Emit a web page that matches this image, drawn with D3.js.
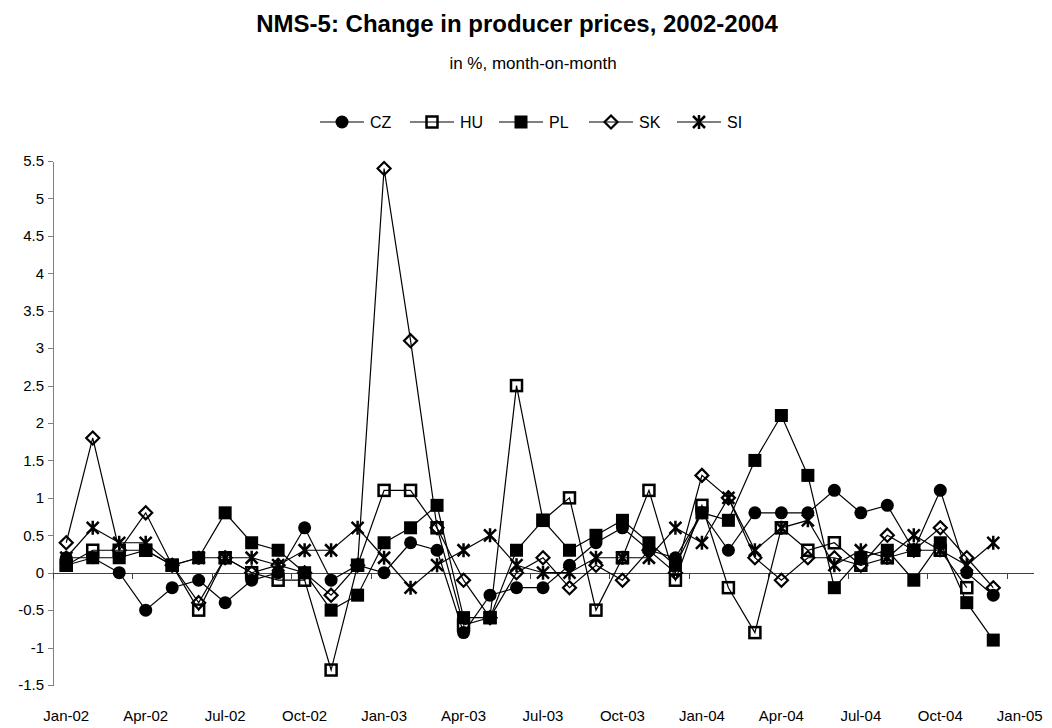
<!DOCTYPE html>
<html>
  <head>
    <meta charset="utf-8">
    <title>NMS-5 producer prices</title>
    <script src="https://cdn.jsdelivr.net/npm/d3@7"></script>
    <style>
      body { margin: 0; background: #fff; }
      svg { display: block; font-family: Arial, "Liberation Sans", sans-serif; }
      .axis path, .axis line { stroke: #808080; shape-rendering: crispEdges; }
      .axis text { font-size: 15px; fill: #000; }
      #xAxisGroup path, #xAxisGroup line { stroke: #404040; }
    </style>
  </head>
  <body>
    <svg id="chart" width="1052" height="728"></svg>

    <script>
      // data: month-on-month change in producer prices, %
      months = ["Jan-02","Feb-02","Mar-02","Apr-02","May-02","Jun-02","Jul-02","Aug-02","Sep-02","Oct-02","Nov-02","Dec-02",
                "Jan-03","Feb-03","Mar-03","Apr-03","May-03","Jun-03","Jul-03","Aug-03","Sep-03","Oct-03","Nov-03","Dec-03",
                "Jan-04","Feb-04","Mar-04","Apr-04","May-04","Jun-04","Jul-04","Aug-04","Sep-04","Oct-04","Nov-04","Dec-04"];
      cz = [0.2, 0.2, 0, -0.5, -0.2, -0.1, -0.4, -0.1, 0, 0.6, -0.1, 0.1,
            0, 0.4, 0.3, -0.8, -0.3, -0.2, -0.2, 0.1, 0.4, 0.6, 0.3, 0.2,
            0.8, 0.3, 0.8, 0.8, 0.8, 1.1, 0.8, 0.9, 0.3, 1.1, 0, -0.3];
      hu = [0.1, 0.3, 0.3, 0.3, 0.1, -0.5, 0.2, 0, -0.1, -0.1, -1.3, 0.1,
            1.1, 1.1, 0.6, -0.7, -0.6, 2.5, 0.7, 1.0, -0.5, 0.2, 1.1, -0.1,
            0.9, -0.2, -0.8, 0.6, 0.3, 0.4, 0.1, 0.2, 0.3, 0.3, -0.2, null];
      pl = [0.1, 0.2, 0.2, 0.3, 0.1, 0.2, 0.8, 0.4, 0.3, 0, -0.5, -0.3,
            0.4, 0.6, 0.9, -0.6, -0.6, 0.3, 0.7, 0.3, 0.5, 0.7, 0.4, 0.1,
            0.8, 0.7, 1.5, 2.1, 1.3, -0.2, 0.2, 0.3, -0.1, 0.4, -0.4, -0.9];
      sk = [0.4, 1.8, 0.3, 0.8, 0.1, -0.4, 0.2, 0, 0.1, 0, -0.3, 0.1,
            5.4, 3.1, 0.6, -0.1, -0.6, 0, 0.2, -0.2, 0.1, -0.1, 0.3, 0,
            1.3, 1.0, 0.2, -0.1, 0.2, 0.2, 0.1, 0.5, 0.3, 0.6, 0.2, -0.2];
      si = [0.2, 0.6, 0.4, 0.4, 0.1, 0.2, 0.2, 0.2, 0.1, 0.3, 0.3, 0.6,
            0.2, -0.2, 0.1, 0.3, 0.5, 0.1, 0, 0, 0.2, 0.2, 0.2, 0.6,
            0.4, 1.0, 0.3, 0.6, 0.7, 0.1, 0.3, 0.2, 0.5, 0.3, 0.1, 0.4];
      seriesNames = ["CZ", "HU", "PL", "SK", "SI"];
      xLabels = ["Jan-02","Apr-02","Jul-02","Oct-02","Jan-03","Apr-03","Jul-03","Oct-03","Jan-04","Apr-04","Jul-04","Oct-04","Jan-05"];
      yTicks = [-1.5, -1, -0.5, 0, 0.5, 1, 1.5, 2, 2.5, 3, 3.5, 4, 4.5, 5, 5.5];

      series = [
        {name: "CZ", values: cz, marker: "circle"},
        {name: "HU", values: hu, marker: "hollowSquare"},
        {name: "PL", values: pl, marker: "square"},
        {name: "SK", values: sk, marker: "diamond"},
        {name: "SI", values: si, marker: "star"}
      ];

      // page elements
      chart = d3.select("#chart");
      width = 1052;
      height = 728;
      margin = {top: 161, right: 19, bottom: 43, left: 53};

      // scales: one slot per month, Jan-02 through Jan-05
      x = d3.scaleLinear()
        .domain([0, months.length + 1])
        .range([margin.left, width - margin.right]);
      y = d3.scaleLinear()
        .domain([-1.5, 5.5])
        .range([height - margin.bottom, margin.top]);

      // titles
      chart.append("text")
        .attr("x", 517)
        .attr("y", 32)
        .attr("text-anchor", "middle")
        .style("font-size", "24px")
        .style("font-weight", "bold")
        .text("NMS-5: Change in producer prices, 2002-2004");
      chart.append("text")
        .attr("x", 533)
        .attr("y", 69)
        .attr("text-anchor", "middle")
        .style("font-size", "17px")
        .text("in %, month-on-month");

      // y axis
      yAxis = d3.axisLeft(y)
        .tickValues(yTicks)
        .tickSizeInner(5)
        .tickSizeOuter(0)
        .tickPadding(4)
        .tickFormat(function(d) { return String(d); });
      chart.append("g")
        .attr("class", "axis")
        .attr("transform", "translate(" + margin.left + ", 0)")
        .call(yAxis);

      // x axis on the zero line, ticks at quarter boundaries
      xAxis = d3.axisBottom(x)
        .tickValues(d3.range(0, months.length + 1, 3))
        .tickSizeInner(6)
        .tickSizeOuter(0)
        .tickFormat("");
      chart.append("g")
        .attr("id", "xAxisGroup")
        .attr("class", "axis")
        .attr("transform", "translate(0, " + y(0) + ")")
        .call(xAxis);

      // x labels sit at the bottom, centred on the month slot
      chart.append("g")
        .selectAll("text")
        .data(xLabels)
        .enter().append("text")
          .attr("x", function(d, i) { return x(i * 3 + 0.5); })
          .attr("y", height - margin.bottom + 36)
          .attr("text-anchor", "middle")
          .style("font-size", "15px")
          .text(function(d) { return d; });

      // markers
      function drawMarker(g, type) {
        if (type === "circle") {
          g.append("circle").attr("r", 6.5).attr("fill", "#000");
        } else if (type === "square") {
          g.append("rect").attr("x", -6.5).attr("y", -6.5).attr("width", 13).attr("height", 13).attr("fill", "#000");
        } else if (type === "hollowSquare") {
          g.append("rect").attr("x", -5.5).attr("y", -5.5).attr("width", 11).attr("height", 11)
            .attr("fill", "none").attr("stroke", "#000").attr("stroke-width", 2.5);
        } else if (type === "diamond") {
          g.append("path").attr("d", "M0,-6.5L6.5,0L0,6.5L-6.5,0Z")
            .attr("fill", "none").attr("stroke", "#000").attr("stroke-width", 2.2);
        } else if (type === "star") {
          g.append("path").attr("d", "M-6,-6L6,6M-6,6L6,-6M0,-7L0,7")
            .attr("fill", "none").attr("stroke", "#000").attr("stroke-width", 2.5);
        }
      }

      line = d3.line()
        .defined(function(d) { return d != null; })
        .x(function(d, i) { return x(i + 0.5); })
        .y(function(d) { return y(d); });

      plot = chart.append("g").attr("id", "plot");
      series.forEach(function(s) {
        plot.append("path")
          .datum(s.values)
          .attr("d", line)
          .attr("fill", "none")
          .attr("stroke", "#000")
          .attr("stroke-width", 1.2);
        plot.selectAll(".m-" + s.name)
          .data(s.values.map(function(v, i) { return {v: v, i: i}; }).filter(function(d) { return d.v != null; }))
          .enter().append("g")
            .attr("class", "m-" + s.name)
            .attr("transform", function(d) { return "translate(" + x(d.i + 0.5) + "," + y(d.v) + ")"; })
            .each(function() { drawMarker(d3.select(this), s.marker); });
      });

      // legend
      legend = chart.append("g").attr("transform", "translate(0, 122)");
      legendX = [342, 432, 521, 611, 699];
      series.forEach(function(s, i) {
        item = legend.append("g").attr("transform", "translate(" + legendX[i] + ", 0)");
        item.append("line")
          .attr("x1", -22).attr("x2", 22)
          .attr("stroke", "#000").attr("stroke-width", 1.2);
        drawMarker(item, s.marker);
        item.append("text")
          .attr("x", 28)
          .attr("dy", "0.35em")
          .style("font-size", "16px")
          .text(seriesNames[i]);
      });
    </script>
  </body>
</html>
